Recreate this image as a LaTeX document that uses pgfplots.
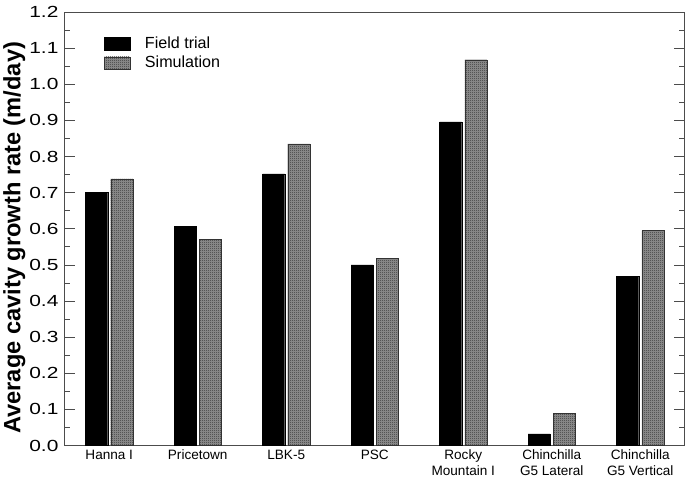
\documentclass[border=0pt]{standalone}
\usepackage{pgfplots}
\pgfplotsset{compat=1.18}
\usepackage{fontspec}
\setmainfont{Liberation Sans}
\newfontfamily\tickfont[FakeStretch=1.3]{Liberation Sans}
\usetikzlibrary{patterns}
\pgfdeclarepatternformonly{finecheck}{\pgfpointorigin}{\pgfqpoint{2bp}{2bp}}{\pgfqpoint{2bp}{2bp}}{%
  \pgfpathrectangle{\pgfpointorigin}{\pgfqpoint{1bp}{1bp}}%
  \pgfpathrectangle{\pgfqpoint{1bp}{1bp}}{\pgfqpoint{1bp}{1bp}}%
  \pgfusepath{fill}}
\pgfplotstableread{
x field sim
0 0.700 0.738
1 0.607 0.570
2 0.752 0.835
3 0.500 0.518
4 0.896 1.068
5 0.032 0.090
6 0.468 0.595
}\data
\begin{document}
\begin{tikzpicture}
\begin{axis}[
  scale only axis,
  width=616bp, height=431bp,
  xmin=-0.5, xmax=6.5,
  ymin=0, ymax=1.2,
  ytick={0,0.1,...,1.21},
  minor y tick num=1,
  yticklabel style={/pgf/number format/fixed,/pgf/number format/fixed zerofill,/pgf/number format/precision=1, font=\tickfont\fontsize{16bp}{18bp}\selectfont, xshift=-3bp},
  /pgf/number format/assume math mode=true,
  xtick=data,
  xticklabels={Hanna I,Pricetown,LBK-5,PSC,{Rocky\\Mountain I},{Chinchilla\\G5 Lateral},{Chinchilla\\G5 Vertical}},
  xticklabel style={font=\fontsize{13.5bp}{15bp}\selectfont, align=center, anchor=north, yshift=-1bp},
  x tick style={draw=none},
  tick align=inside,
  ytick pos=both,
  major tick length=10bp,
  minor tick length=5bp,
  tick style={black!70, line width=0.8pt},
  axis line style={black!70, line width=1pt},
  ylabel={\bfseries Average cavity growth rate (m/day)},
  ylabel style={font=\fontsize{23.5bp}{25bp}\selectfont, xshift=-9bp},
  ylabel shift=-3bp,
  legend style={draw=none, fill=none, at={(0.06,0.952)}, anchor=north west, font=\fontsize{16bp}{18bp}\selectfont, row sep=2bp, inner sep=2bp},
  legend cell align=left,
  legend image code/.code={\draw[#1] (0bp,-6bp) rectangle (25bp,6bp); \path[draw=none,fill=none,pattern=none,postaction={}] (38bp,0bp);},
  clip=false,
  after end axis/.code={\path (rel axis cs:0,1) ++(0,12bp);},
]
\addplot[ybar, bar width=22bp, bar shift=-12.5bp, fill=black, draw=black] table[x=x,y=field]{\data};
\addlegendentry{Field trial}
\addplot[ybar, bar width=22bp, bar shift=12.5bp, fill=gray!85, draw=black!80, postaction={pattern=finecheck, pattern color=black!80}] table[x=x,y=sim]{\data};
\addlegendentry{Simulation}
\end{axis}
\end{tikzpicture}
\end{document}
